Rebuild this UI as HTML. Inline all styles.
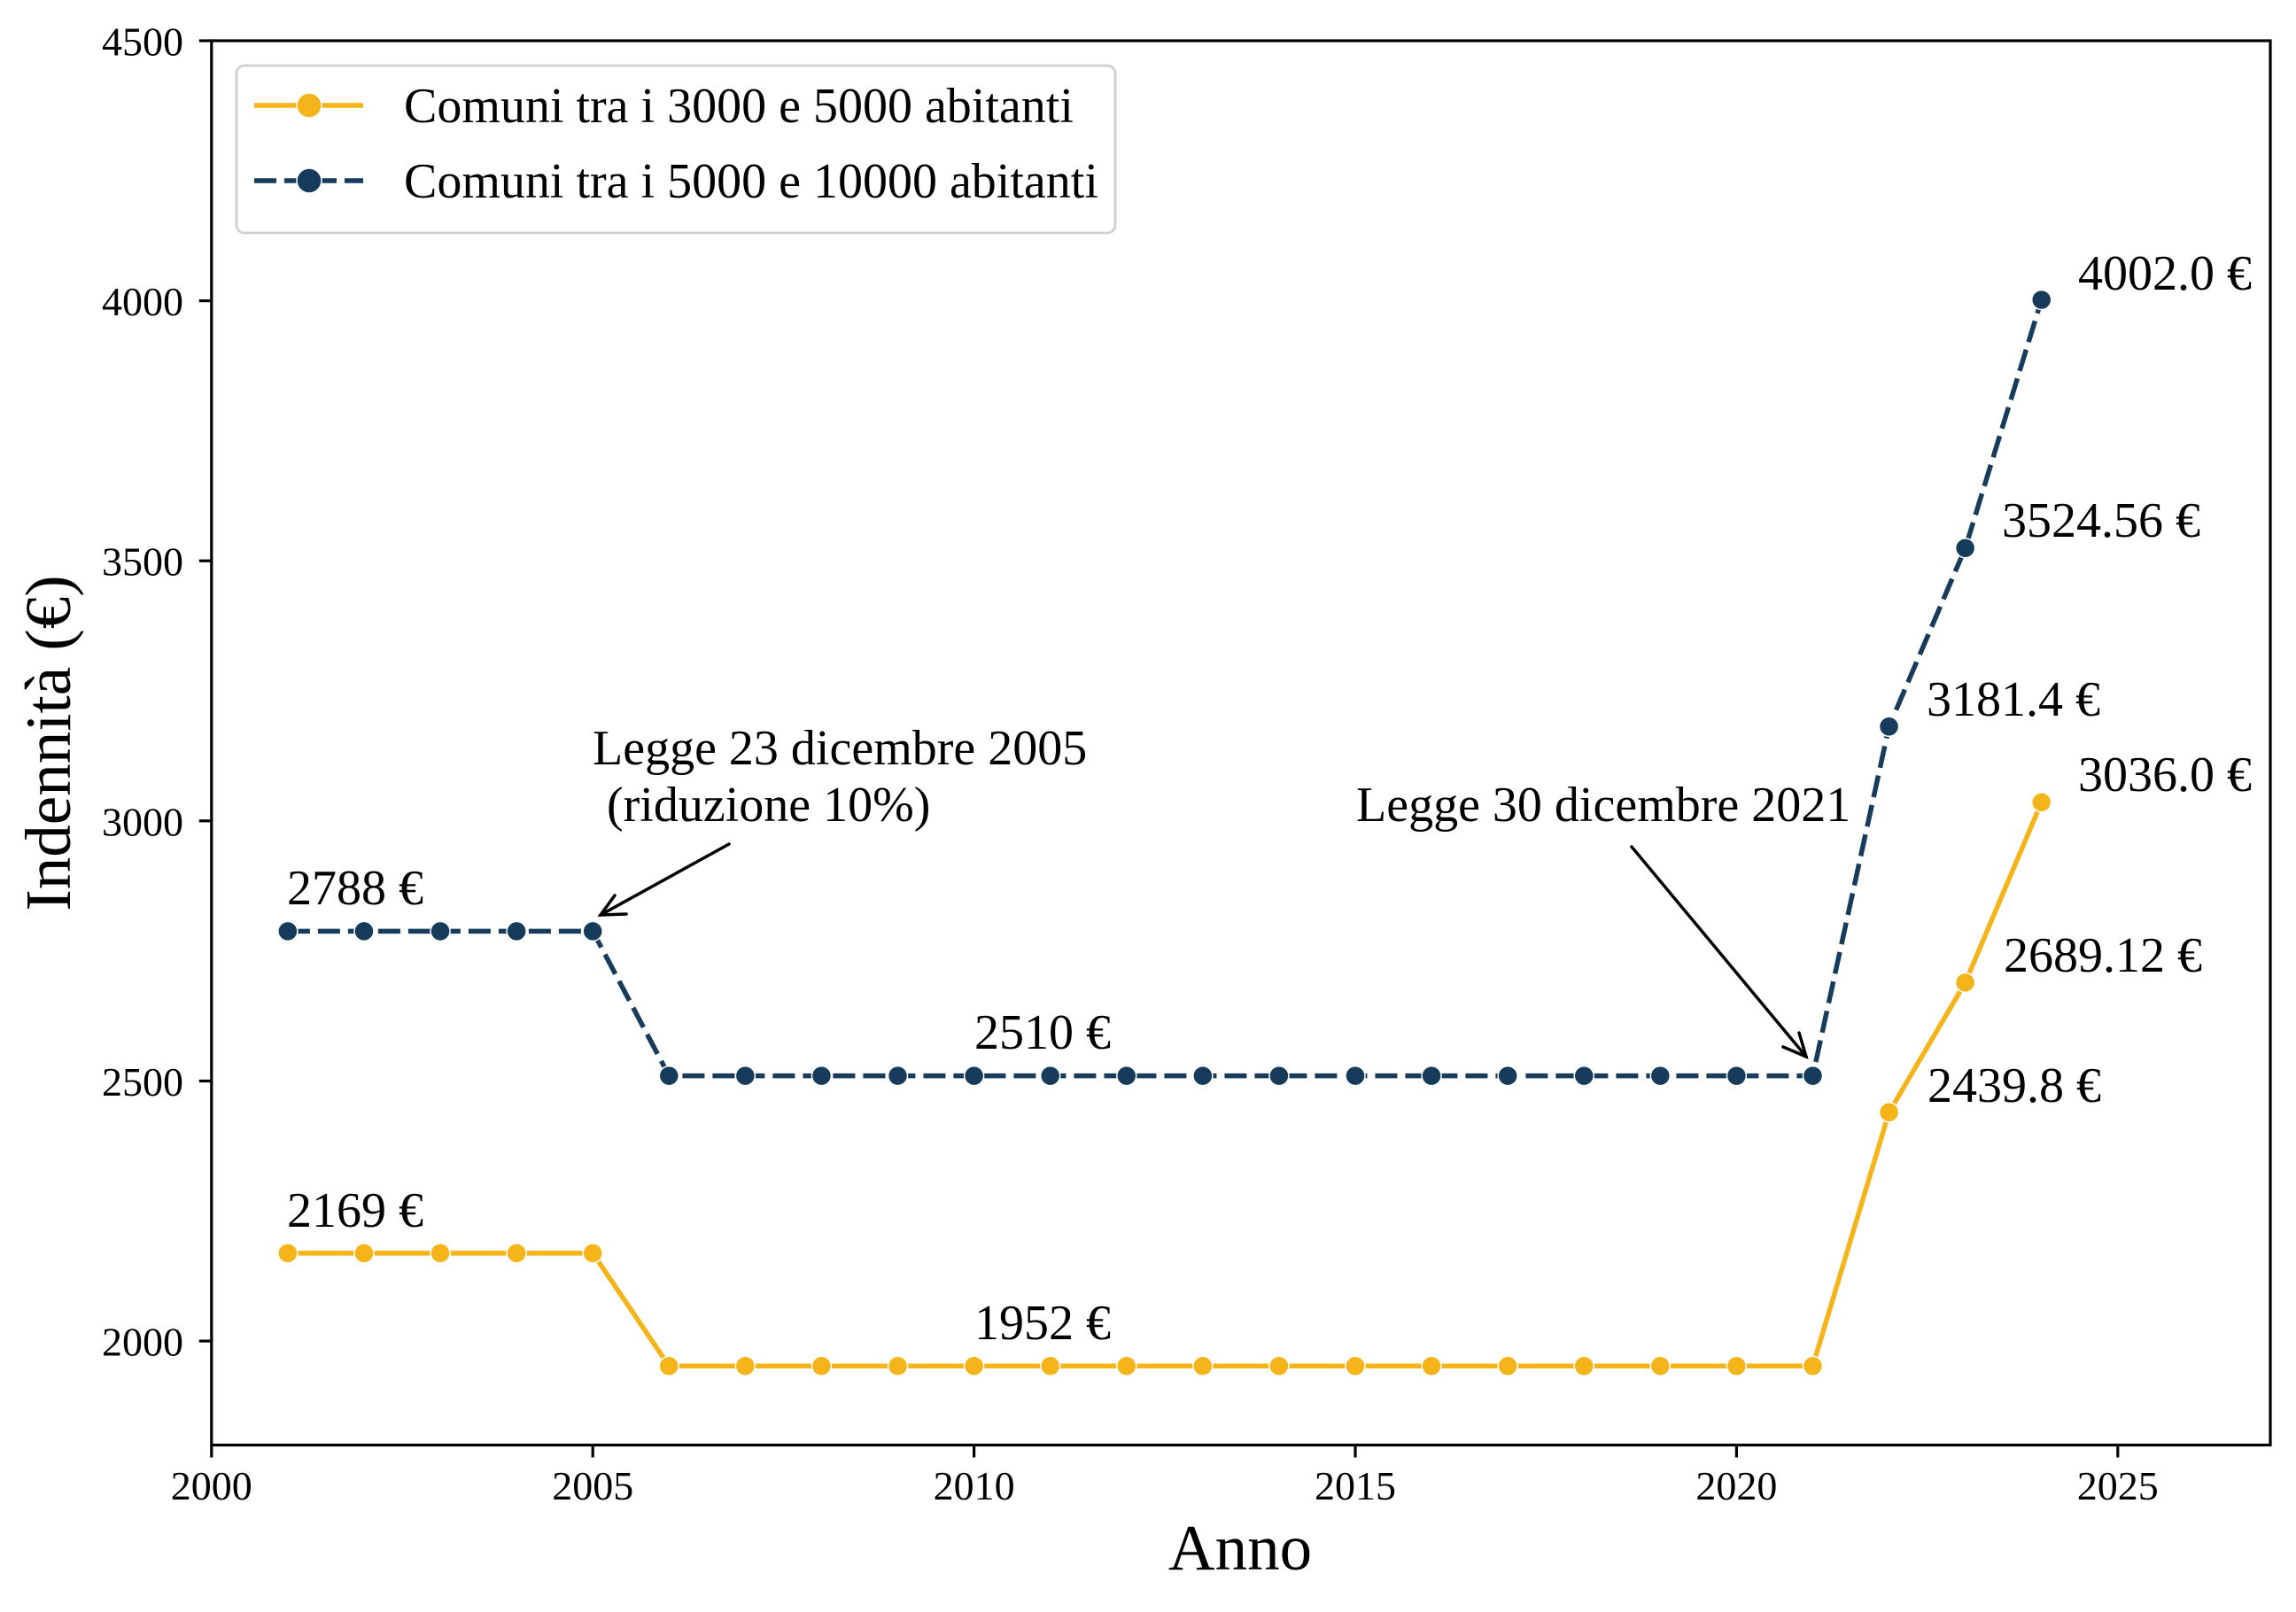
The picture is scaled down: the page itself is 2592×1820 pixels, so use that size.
<!DOCTYPE html>
<html>
<head>
<meta charset="utf-8">
<style>
html,body{margin:0;padding:0;background:#fff;}
svg{display:block;}
text{font-family:"Liberation Serif",serif;fill:#000;}
</style>
</head>
<body>
<svg width="2592" height="1820" viewBox="0 0 2592 1820" xmlns="http://www.w3.org/2000/svg">
<rect x="0" y="0" width="2592" height="1820" fill="#fff"/>

<!-- ticks -->
<g stroke="#000" stroke-width="3.2">
<line x1="238.8" y1="1631.5" x2="238.8" y2="1645.5"/>
<line x1="669.2" y1="1631.5" x2="669.2" y2="1645.5"/>
<line x1="1099.6" y1="1631.5" x2="1099.6" y2="1645.5"/>
<line x1="1530" y1="1631.5" x2="1530" y2="1645.5"/>
<line x1="1960.4" y1="1631.5" x2="1960.4" y2="1645.5"/>
<line x1="2390.8" y1="1631.5" x2="2390.8" y2="1645.5"/>
<line x1="224.8" y1="1514.1" x2="238.8" y2="1514.1"/>
<line x1="224.8" y1="1220.5" x2="238.8" y2="1220.5"/>
<line x1="224.8" y1="926.8" x2="238.8" y2="926.8"/>
<line x1="224.8" y1="633.2" x2="238.8" y2="633.2"/>
<line x1="224.8" y1="339.6" x2="238.8" y2="339.6"/>
<line x1="224.8" y1="46" x2="238.8" y2="46"/>
</g>
<g font-size="46" text-anchor="middle">
<text x="238.8" y="1693">2000</text>
<text x="669.2" y="1693">2005</text>
<text x="1099.6" y="1693">2010</text>
<text x="1530" y="1693">2015</text>
<text x="1960.4" y="1693">2020</text>
<text x="2390.8" y="1693">2025</text>
</g>
<g font-size="46" text-anchor="end">
<text x="207" y="1530.5">2000</text>
<text x="207" y="1237">2500</text>
<text x="207" y="943.3">3000</text>
<text x="207" y="649.7">3500</text>
<text x="207" y="356">4000</text>
<text x="207" y="62.5">4500</text>
</g>

<text x="1400" y="1772" font-size="73" text-anchor="middle">Anno</text>
<text transform="translate(79,839) rotate(-90)" font-size="73" text-anchor="middle">Indennità (€)</text>

<!-- orange series -->
<polyline fill="none" stroke="#f4b41a" stroke-width="5.5" stroke-linejoin="round"
points="324.88,1414.82 410.96,1414.82 497.04,1414.82 583.12,1414.82 669.2,1414.82 755.28,1542.24 841.36,1542.24 927.44,1542.24 1013.52,1542.24 1099.6,1542.24 1185.68,1542.24 1271.76,1542.24 1357.84,1542.24 1443.92,1542.24 1530,1542.24 1616.08,1542.24 1702.16,1542.24 1788.24,1542.24 1874.32,1542.24 1960.4,1542.24 2046.48,1542.24 2132.56,1255.8 2218.64,1109.39 2304.72,905.7"/>
<g fill="#f4b41a" stroke="#fff" stroke-width="1.5">
<circle cx="324.88" cy="1414.82" r="11"/>
<circle cx="410.96" cy="1414.82" r="11"/>
<circle cx="497.04" cy="1414.82" r="11"/>
<circle cx="583.12" cy="1414.82" r="11"/>
<circle cx="669.2" cy="1414.82" r="11"/>
<circle cx="755.28" cy="1542.24" r="11"/>
<circle cx="841.36" cy="1542.24" r="11"/>
<circle cx="927.44" cy="1542.24" r="11"/>
<circle cx="1013.52" cy="1542.24" r="11"/>
<circle cx="1099.6" cy="1542.24" r="11"/>
<circle cx="1185.68" cy="1542.24" r="11"/>
<circle cx="1271.76" cy="1542.24" r="11"/>
<circle cx="1357.84" cy="1542.24" r="11"/>
<circle cx="1443.92" cy="1542.24" r="11"/>
<circle cx="1530" cy="1542.24" r="11"/>
<circle cx="1616.08" cy="1542.24" r="11"/>
<circle cx="1702.16" cy="1542.24" r="11"/>
<circle cx="1788.24" cy="1542.24" r="11"/>
<circle cx="1874.32" cy="1542.24" r="11"/>
<circle cx="1960.4" cy="1542.24" r="11"/>
<circle cx="2046.48" cy="1542.24" r="11"/>
<circle cx="2132.56" cy="1255.8" r="11"/>
<circle cx="2218.64" cy="1109.39" r="11"/>
<circle cx="2304.72" cy="905.7" r="11"/>
</g>

<!-- navy series -->
<polyline fill="none" stroke="#173c5b" stroke-width="5.5" stroke-dasharray="25 9" stroke-linejoin="round"
points="324.88,1051.33 410.96,1051.33 497.04,1051.33 583.12,1051.33 669.2,1051.33 755.28,1214.57 841.36,1214.57 927.44,1214.57 1013.52,1214.57 1099.6,1214.57 1185.68,1214.57 1271.76,1214.57 1357.84,1214.57 1443.92,1214.57 1530,1214.57 1616.08,1214.57 1702.16,1214.57 1788.24,1214.57 1874.32,1214.57 1960.4,1214.57 2046.48,1214.57 2132.56,820.31 2218.64,618.8 2304.72,338.44"/>
<g fill="#173c5b" stroke="#fff" stroke-width="1.5">
<circle cx="324.88" cy="1051.33" r="11"/>
<circle cx="410.96" cy="1051.33" r="11"/>
<circle cx="497.04" cy="1051.33" r="11"/>
<circle cx="583.12" cy="1051.33" r="11"/>
<circle cx="669.2" cy="1051.33" r="11"/>
<circle cx="755.28" cy="1214.57" r="11"/>
<circle cx="841.36" cy="1214.57" r="11"/>
<circle cx="927.44" cy="1214.57" r="11"/>
<circle cx="1013.52" cy="1214.57" r="11"/>
<circle cx="1099.6" cy="1214.57" r="11"/>
<circle cx="1185.68" cy="1214.57" r="11"/>
<circle cx="1271.76" cy="1214.57" r="11"/>
<circle cx="1357.84" cy="1214.57" r="11"/>
<circle cx="1443.92" cy="1214.57" r="11"/>
<circle cx="1530" cy="1214.57" r="11"/>
<circle cx="1616.08" cy="1214.57" r="11"/>
<circle cx="1702.16" cy="1214.57" r="11"/>
<circle cx="1788.24" cy="1214.57" r="11"/>
<circle cx="1874.32" cy="1214.57" r="11"/>
<circle cx="1960.4" cy="1214.57" r="11"/>
<circle cx="2046.48" cy="1214.57" r="11"/>
<circle cx="2132.56" cy="820.31" r="11"/>
<circle cx="2218.64" cy="618.8" r="11"/>
<circle cx="2304.72" cy="338.44" r="11"/>
</g>

<!-- value labels -->
<g font-size="56">
<text x="324" y="1021">2788 €</text>
<text x="324" y="1385">2169 €</text>
<text x="1100" y="1184">2510 €</text>
<text x="1100" y="1512">1952 €</text>
<text x="2346" y="327">4002.0 €</text>
<text x="2260" y="606">3524.56 €</text>
<text x="2175" y="808">3181.4 €</text>
<text x="2346" y="893">3036.0 €</text>
<text x="2262" y="1097">2689.12 €</text>
<text x="2176" y="1244">2439.8 €</text>
</g>

<!-- annotations -->
<g font-size="56">
<text x="669" y="863">Legge 23 dicembre 2005</text>
<text x="685" y="927">(riduzione 10%)</text>
<text x="1531" y="927">Legge 30 dicembre 2021</text>
</g>
<g stroke="#000" stroke-width="3.5" fill="none" stroke-linecap="round" stroke-linejoin="miter">
<line x1="823" y1="953" x2="678" y2="1033"/>
<polyline points="707,1032 678,1033 694,1011"/>
<line x1="1842" y1="956" x2="2039" y2="1193"/>
<polyline points="2013,1182 2039,1193 2031,1166"/>
</g>

<!-- frame -->
<rect x="238.8" y="46" width="2324.2" height="1585.5" fill="none" stroke="#000" stroke-width="3.2"/>

<!-- legend -->
<rect x="267" y="74" width="992" height="189" rx="9" ry="9" fill="#fff" fill-opacity="0.85" stroke="#d0d0d0" stroke-width="2.8"/>
<line x1="287" y1="119" x2="410" y2="119" stroke="#f4b41a" stroke-width="5.5"/>
<circle cx="349" cy="119" r="14" fill="#f4b41a" stroke="#fff" stroke-width="1.5"/>
<line x1="287" y1="204" x2="410" y2="204" stroke="#173c5b" stroke-width="5.5" stroke-dasharray="25 9"/>
<circle cx="349" cy="204" r="14" fill="#173c5b" stroke="#fff" stroke-width="1.5"/>
<g font-size="56">
<text x="456" y="138">Comuni tra i 3000 e 5000 abitanti</text>
<text x="456" y="223">Comuni tra i 5000 e 10000 abitanti</text>
</g>
</svg>
</body>
</html>
